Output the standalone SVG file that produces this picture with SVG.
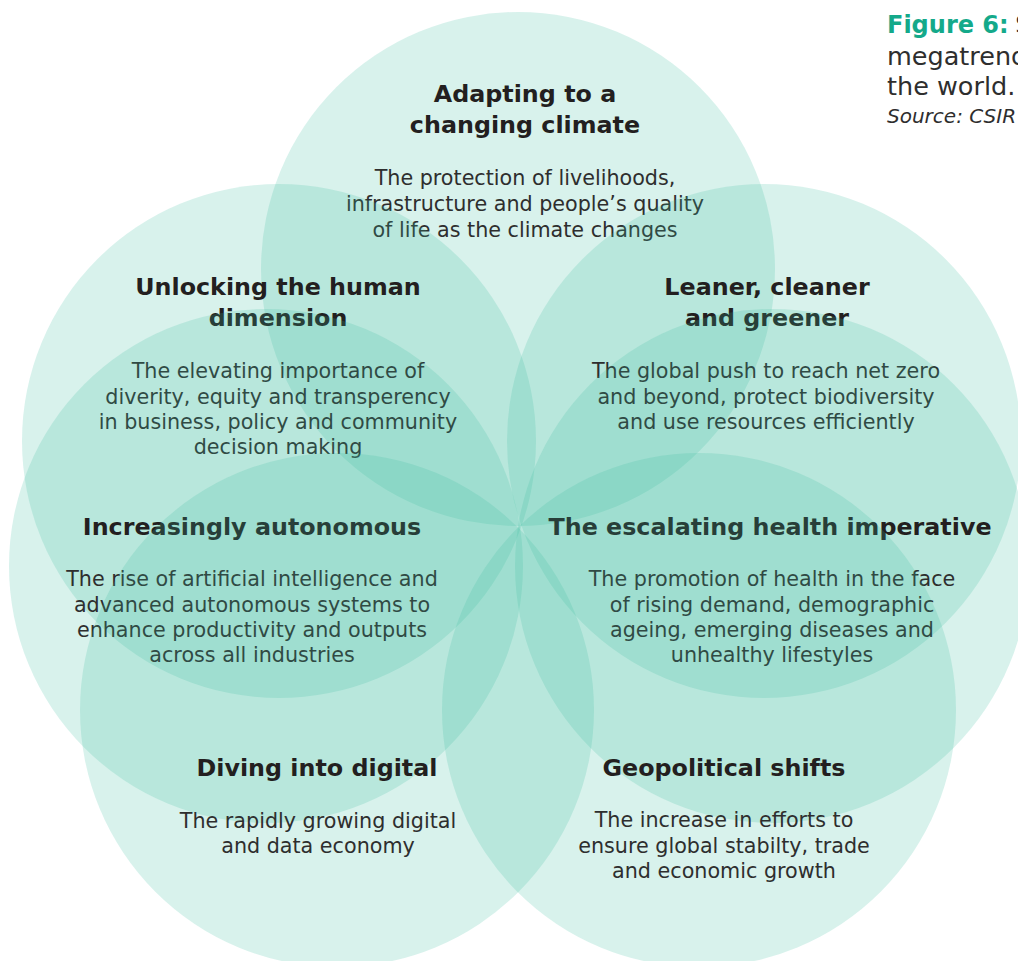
<svg xmlns="http://www.w3.org/2000/svg" width="1018" height="961" viewBox="0 0 1018 961">
<style>
.c{fill:#3cbea0;fill-opacity:0.2}
.h{font-family:"DejaVu Sans",sans-serif;font-weight:bold;font-size:23.8px;fill:#231f20;text-anchor:middle}
.b{font-family:"DejaVu Sans",sans-serif;font-size:20.7px;fill:#2e2e2e;text-anchor:middle}
.fg{font-family:"DejaVu Sans",sans-serif;font-weight:bold;font-size:24px;fill:#14a98a}
.fr{font-family:"DejaVu Sans",sans-serif;font-size:24px;fill:#2e2e2e}
.ft{font-family:"DejaVu Sans",sans-serif;font-size:25.5px;fill:#2e2e2e}
.fs{font-family:"DejaVu Sans",sans-serif;font-style:italic;font-size:20px;fill:#2e2e2e}
</style>
<rect width="1018" height="961" fill="#ffffff"/>
<g id="caption">
<text x="887" y="33"><tspan class="fg">Figure 6:</tspan><tspan class="fr" dx="-1"> S</tspan></text>
<text class="ft" x="887" y="65">megatrend</text>
<text class="ft" x="887" y="95">the world.</text>
<text class="fs" x="887" y="123">Source: CSIR</text>
</g>
<g id="connectors"/>
<g id="adapting">
<circle class="c" cx="518" cy="269" r="257"/>
<text class="h" x="525" y="102">Adapting to a</text>
<text class="h" x="525" y="133">changing climate</text>
<text class="b" x="525" y="185">The protection of livelihoods,</text>
<text class="b" x="525" y="211">infrastructure and people’s quality</text>
<text class="b" x="525" y="237">of life as the climate changes</text>
</g>
<g id="unlocking">
<circle class="c" cx="279" cy="441" r="257"/>
<text class="h" x="278" y="295">Unlocking the human</text>
<text class="h" x="278" y="326">dimension</text>
<text class="b" x="278" y="378">The elevating importance of</text>
<text class="b" x="278" y="404">diverity, equity and transperency</text>
<text class="b" x="278" y="429">in business, policy and community</text>
<text class="b" x="278" y="454">decision making</text>
</g>
<g id="leaner">
<circle class="c" cx="764" cy="441" r="257"/>
<text class="h" x="767" y="295">Leaner, cleaner</text>
<text class="h" x="767" y="326">and greener</text>
<text class="b" x="766" y="378">The global push to reach net zero</text>
<text class="b" x="766" y="404">and beyond, protect biodiversity</text>
<text class="b" x="766" y="429">and use resources efficiently</text>
</g>
<g id="autonomous">
<circle class="c" cx="266" cy="566" r="257"/>
<text class="h" x="252" y="535">Increasingly autonomous</text>
<text class="b" x="252" y="586">The rise of artificial intelligence and</text>
<text class="b" x="252" y="612">advanced autonomous systems to</text>
<text class="b" x="252" y="637">enhance productivity and outputs</text>
<text class="b" x="252" y="662">across all industries</text>
</g>
<g id="health">
<circle class="c" cx="772" cy="566" r="257"/>
<text class="h" x="770" y="535">The escalating health imperative</text>
<text class="b" x="772" y="586">The promotion of health in the face</text>
<text class="b" x="772" y="612">of rising demand, demographic</text>
<text class="b" x="772" y="637">ageing, emerging diseases and</text>
<text class="b" x="772" y="662">unhealthy lifestyles</text>
</g>
<g id="digital">
<circle class="c" cx="337" cy="710" r="257"/>
<text class="h" x="317" y="776">Diving into digital</text>
<text class="b" x="318" y="828">The rapidly growing digital</text>
<text class="b" x="318" y="853">and data economy</text>
</g>
<g id="geopolitical">
<circle class="c" cx="699" cy="710" r="257"/>
<text class="h" x="724" y="776">Geopolitical shifts</text>
<text class="b" x="724" y="827">The increase in efforts to</text>
<text class="b" x="724" y="853">ensure global stabilty, trade</text>
<text class="b" x="724" y="878">and economic growth</text>
</g>
</svg>
